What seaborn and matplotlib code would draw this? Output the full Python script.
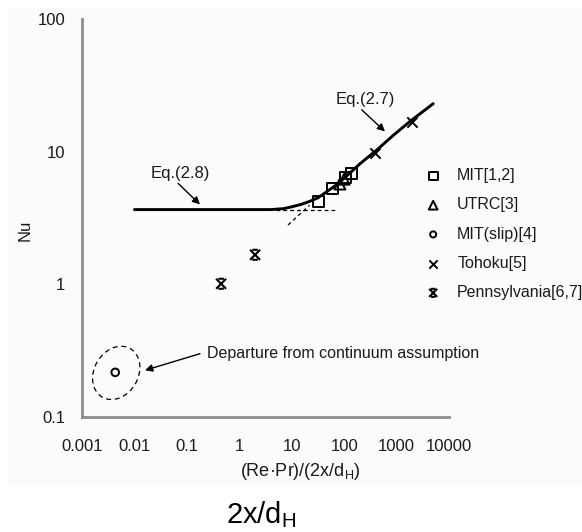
import numpy as np
import pandas as pd
import matplotlib
matplotlib.use("Agg")
import matplotlib.pyplot as plt
from matplotlib.path import Path
from matplotlib.patches import Ellipse, Rectangle
import matplotlib.transforms as mtransforms
import seaborn as sns

# ---------------- data ----------------
curve_x = [0.01, 1, 4, 7, 10, 15, 22, 32, 47, 70, 100, 200, 420, 870, 1800, 5000]
curve_y = [3.66, 3.66, 3.66, 3.72, 3.84, 4.0, 4.22, 4.5, 5.0, 5.6, 6.3, 8.1, 10.3, 13.3, 16.9, 23.0]

dash_h_x = [5, 78]
dash_h_y = [3.66, 3.66]
dash_s_x = [8.5, 22]
dash_s_y = [2.8, 3.95]

mit_x = [32, 61, 106, 139]
mit_y = [4.22, 5.24, 6.4, 6.9]
utrc_x = [83, 100]
utrc_y = [5.7, 6.2]
slip_x = [0.0043]
slip_y = [0.217]
tohoku_x = [388, 1950]
tohoku_y = [9.7, 16.6]
penn_x = [0.45, 2.0]
penn_y = [1.01, 1.67]

series_labels = ["MIT[1,2]", "UTRC[3]", "MIT(slip)[4]", "Tohoku[5]", "Pennsylvania[6,7]"]

x_ticks = [0.001, 0.01, 0.1, 1, 10, 100, 1000, 10000]
x_ticklabels = ["0.001", "0.01", "0.1", "1", "10", "100", "1000", "10000"]
y_ticks = [0.1, 1, 10, 100]
y_ticklabels = ["0.1", "1", "10", "100"]

# ---------------- style ----------------
sns.set_theme(style="white")
plt.rcParams["font.family"] = ["Liberation Sans", "DejaVu Sans"]
plt.rcParams["mathtext.fontset"] = "custom"
plt.rcParams["mathtext.rm"] = "Liberation Sans"
TXT = "#1a1a1a"
AX = "#8c8c8c"

fig = plt.figure(figsize=(5.82, 5.32), dpi=100)
fig.patches.append(Rectangle((8 / 582, 47 / 532), 574 / 582, 477 / 532,
                             transform=fig.transFigure, facecolor="#fbfbfb",
                             edgecolor="none", zorder=-10))
ax = fig.add_axes([82 / 582, 115 / 532, 367 / 582, 398 / 532])
ax.set_facecolor("none")
ax.set_xscale("log")
ax.set_yscale("log")

# curve Eq.(2.7)/(2.8)
sns.lineplot(x=curve_x, y=curve_y, ax=ax, color="black", lw=2.1, sort=False,
             estimator=None, zorder=3)
sns.lineplot(x=dash_h_x, y=dash_h_y, ax=ax, color="black", lw=0.9,
             linestyle=(0, (3, 2.5)), estimator=None, zorder=2)
sns.lineplot(x=dash_s_x, y=dash_s_y, ax=ax, color="black", lw=0.9,
             linestyle=(0, (3, 2.5)), estimator=None, zorder=2)

penn_marker = Path([(-1, -1), (1, 1), (-1, 1), (1, -1),
                    (-0.55, 1), (0.55, 1), (-0.55, -1), (0.55, -1)],
                   [Path.MOVETO, Path.LINETO, Path.MOVETO, Path.LINETO,
                    Path.MOVETO, Path.LINETO, Path.MOVETO, Path.LINETO])

sns.scatterplot(x=mit_x, y=mit_y, ax=ax, marker="s", s=62, color="black",
                facecolor="none", edgecolor="black", linewidth=1.4,
                label=series_labels[0], zorder=4)
sns.scatterplot(x=utrc_x, y=utrc_y, ax=ax, marker="^", s=62, color="black",
                facecolor="none", edgecolor="black", linewidth=1.4,
                label=series_labels[1], zorder=4)
sns.scatterplot(x=slip_x, y=slip_y, ax=ax, marker="o", s=30, color="black",
                facecolor="none", edgecolor="black", linewidth=1.4,
                label=series_labels[2], zorder=4)
sns.scatterplot(x=tohoku_x, y=tohoku_y, ax=ax, marker="x", s=55, color="black",
                linewidth=1.4, label=series_labels[3], zorder=4)
sns.scatterplot(x=penn_x, y=penn_y, ax=ax, marker=penn_marker, s=52, color="black",
                facecolor="none", edgecolor="black", linewidth=1.5,
                label=series_labels[4], zorder=4)

ax.set_xlim(0.001, 10000)
ax.set_ylim(0.1, 100)
ax.set_xticks(x_ticks)
ax.set_xticklabels(x_ticklabels)
ax.set_yticks(y_ticks)
ax.set_yticklabels(y_ticklabels)
ax.xaxis.set_minor_locator(matplotlib.ticker.NullLocator())
ax.yaxis.set_minor_locator(matplotlib.ticker.NullLocator())
for s in ["top", "right"]:
    ax.spines[s].set_visible(False)
for s in ["left", "bottom"]:
    ax.spines[s].set_color(AX)
    ax.spines[s].set_linewidth(2.0)
ax.tick_params(axis="both", direction="in", length=4.5, width=1.8, color=AX,
               labelsize=12, labelcolor=TXT)
ax.tick_params(axis="x", pad=16)
ax.tick_params(axis="y", pad=12)
ax.set_xlabel("")
ax.set_ylabel("")

# annotations
arrow_kw = dict(arrowstyle="-|>", color="black", lw=1.0, mutation_scale=11,
                shrinkA=0, shrinkB=0)
ax.text(0.074, 6.86, "Eq.(2.8)", ha="center", va="center", fontsize=12, color=TXT)
ax.annotate("", xy=(0.178, 4.0), xytext=(0.068, 5.77), arrowprops=arrow_kw)
ax.text(255, 24.6, "Eq.(2.7)", ha="center", va="center", fontsize=12, color=TXT)
ax.annotate("", xy=(601, 14.2), xytext=(216, 20.7), arrowprops=arrow_kw)
ax.text(0.239, 0.303, "Departure from continuum assumption", ha="left",
        va="center", fontsize=11.5, color=TXT)
ax.annotate("", xy=(0.0159, 0.225), xytext=(0.178, 0.30), arrowprops=arrow_kw)

ell_tr = fig.dpi_scale_trans + mtransforms.ScaledTranslation(0.0045, 0.215, ax.transData)
ax.add_patch(Ellipse((0, 0), 0.56, 0.44, angle=60, transform=ell_tr,
                     facecolor="none", edgecolor="black", lw=0.9,
                     linestyle=(0, (4, 3))))

leg = ax.legend(loc="upper left", bbox_to_anchor=(414 / 582, 1 - 157 / 532),
                bbox_transform=fig.transFigure, frameon=False, fontsize=11.5,
                markerscale=0.8, handlelength=1.0, handletextpad=1.0,
                labelspacing=0.89, borderpad=0.2)
for t in leg.get_texts():
    t.set_color(TXT)

fig.text(25 / 582, 1 - 230 / 532, "Nu", rotation=90, ha="center", va="center",
         fontsize=12, color=TXT)
fig.text(300 / 582, 1 - 472 / 532, r"(Re·Pr)/(2x/d$_\mathregular{H}$)",
         ha="center", va="center", fontsize=13, color=TXT)
fig.text(261 / 582, 1 - 515 / 532, r"2x/d$_\mathregular{H}$",
         ha="center", va="center", fontsize=21, color="black")

fig.savefig("out.png", dpi=100)
